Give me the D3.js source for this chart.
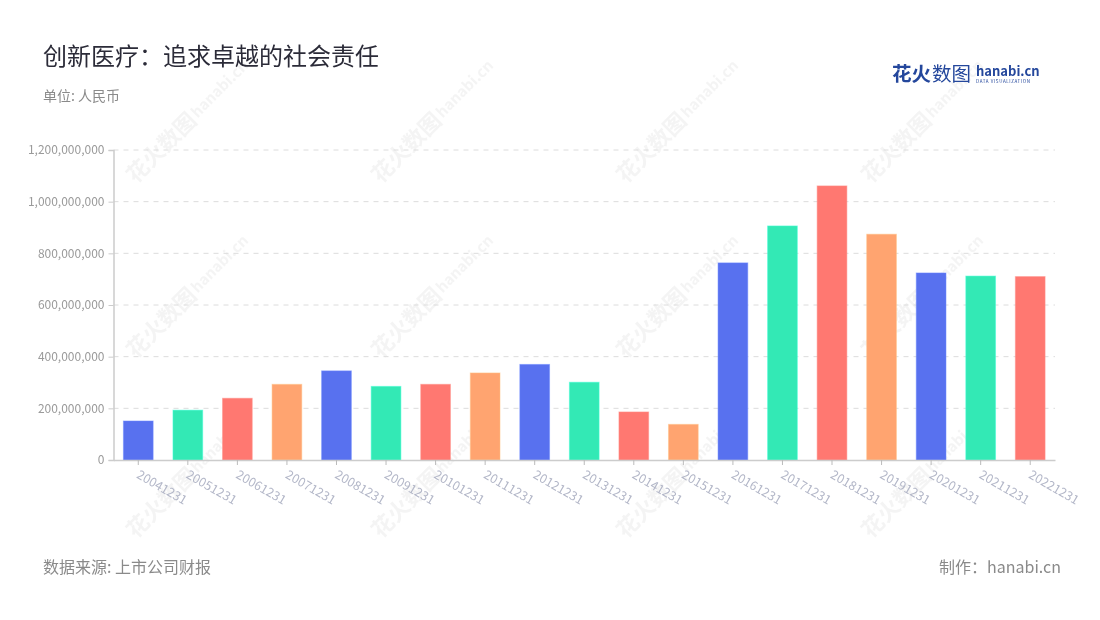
<!DOCTYPE html>
<html><head><meta charset="utf-8">
<script src="https://cdn.jsdelivr.net/npm/d3@7"></script>
<style>body{margin:0;background:#fff;font-family:"Noto Sans CJK SC","Noto Sans",sans-serif;}</style>
</head><body>
<svg id="c" width="1100" height="620"></svg>
<script>
const categories = ["20041231","20051231","20061231","20071231","20081231","20091231","20101231","20111231","20121231","20131231","20141231","20151231","20161231","20171231","20181231","20191231","20201231","20211231","20221231"];
const values = [151e6,193e6,239e6,293e6,345e6,285e6,293e6,337e6,370e6,301e6,186e6,138e6,763e6,906e6,1061e6,874e6,724e6,712e6,710e6];
const yTicks = [0,2e8,4e8,6e8,8e8,10e8,12e8];
const palette = ["#5871EF","#33E9B5","#FF7871","#FFA470"];

const svg = d3.select("#c");
const font = '"Noto Sans CJK SC","Noto Sans",sans-serif';
const m = {l:113.5, r:1055, t:150, b:460};

// watermarks
const wm = svg.append("g").attr("opacity",0.35);
[[150,170],[395,170],[640,170],[885,170],[150,345],[395,345],[640,345],[885,345],[150,525],[395,525],[640,525],[885,525]].forEach(([x,y])=>{
  const g = wm.append("g").attr("transform",`translate(${x},${y}) rotate(-45)`);
  g.append("text").attr("x",-20).attr("y",0).attr("font-size",22).attr("font-weight",700).attr("fill","#e0e0e0").attr("font-family",font).text("花火数图");
  g.append("text").attr("x",70).attr("y",-3).attr("font-size",15).attr("font-weight",700).attr("fill","#e0e0e0").attr("font-family",font).text("hanabi.cn");
});

const x = d3.scaleBand().domain(categories).range([m.l, m.r]).paddingInner(0.4).paddingOuter(0.2);
const y = d3.scaleLinear().domain([0,1.2e9]).range([m.b, m.t]);

// grid
svg.append("g").selectAll("line").data(yTicks.slice(1)).join("line")
  .attr("x1",m.l).attr("x2",m.r).attr("y1",d=>y(d)).attr("y2",d=>y(d))
  .attr("stroke","#dcdcdc").attr("stroke-dasharray","5,5");

// y axis
const ya = svg.append("g").attr("transform",`translate(${m.l},0)`)
  .call(d3.axisLeft(y).tickValues(yTicks).tickSize(5).tickFormat(d3.format(",")));
ya.select(".domain").attr("stroke","#cccccc").attr("stroke-width",1.5);
ya.selectAll(".tick line").attr("stroke","#cccccc");
ya.selectAll("text").attr("fill","#9a9a9a").attr("font-size",12).attr("font-family",font).attr("dx",-1);

// bars
svg.append("g").selectAll("rect").data(values).join("rect")
  .attr("x",(d,i)=>x(categories[i])).attr("width",x.bandwidth())
  .attr("y",d=>y(d)).attr("height",d=>m.b-y(d))
  .attr("fill",(d,i)=>palette[i%4])
  .attr("stroke",(d,i)=>d3.color(palette[i%4]).brighter(0.5)).attr("stroke-opacity",0.5).attr("stroke-width",1);

// x axis
const xa = svg.append("g").attr("transform",`translate(0,${m.b})`)
  .call(d3.axisBottom(x).tickSize(5).tickSizeOuter(0));
xa.select(".domain").attr("stroke","#cccccc").attr("stroke-width",1.5);
xa.selectAll(".tick line").attr("stroke","#bbbbbb");
xa.selectAll("text").attr("fill","#b3b7c8").attr("font-size",12.5).attr("font-family",font)
  .attr("text-anchor","start").attr("transform","translate(4,6) rotate(30)").attr("dy","0.4em");

// title
svg.append("text").attr("x",43).attr("y",65).attr("font-size",24).attr("fill","#2b2b38").attr("font-family",font).text("创新医疗：追求卓越的社会责任");
svg.append("text").attr("x",43).attr("y",101).attr("font-size",14).attr("fill","#8a8a8a").attr("font-family",font).text("单位: 人民币");

// logo
svg.append("text").attr("x",892).attr("y",81).attr("font-size",19.5).attr("font-weight",700).attr("fill","#24479c").attr("font-family",font).text("花火");
svg.append("text").attr("x",932).attr("y",81).attr("font-size",19.5).attr("fill","#24479c").attr("font-family",font).text("数图");
svg.append("text").attr("x",976).attr("y",76).attr("font-size",13).attr("font-weight",700).attr("fill","#24479c").attr("font-family",font).text("hanabi.cn");
svg.append("text").attr("x",976).attr("y",83).attr("font-size",4.5).attr("fill","#24479c").attr("font-family",font).attr("letter-spacing",0.6).text("DATA VISUALIZATION");

// footer
svg.append("text").attr("x",43).attr("y",573).attr("font-size",16).attr("fill","#8a8a8a").attr("font-family",font).text("数据来源: 上市公司财报");
svg.append("text").attr("x",1061).attr("y",573).attr("text-anchor","end").attr("font-size",16).attr("fill","#8a8a8a").attr("font-family",font).text("制作：hanabi.cn");
</script>
</body></html>
